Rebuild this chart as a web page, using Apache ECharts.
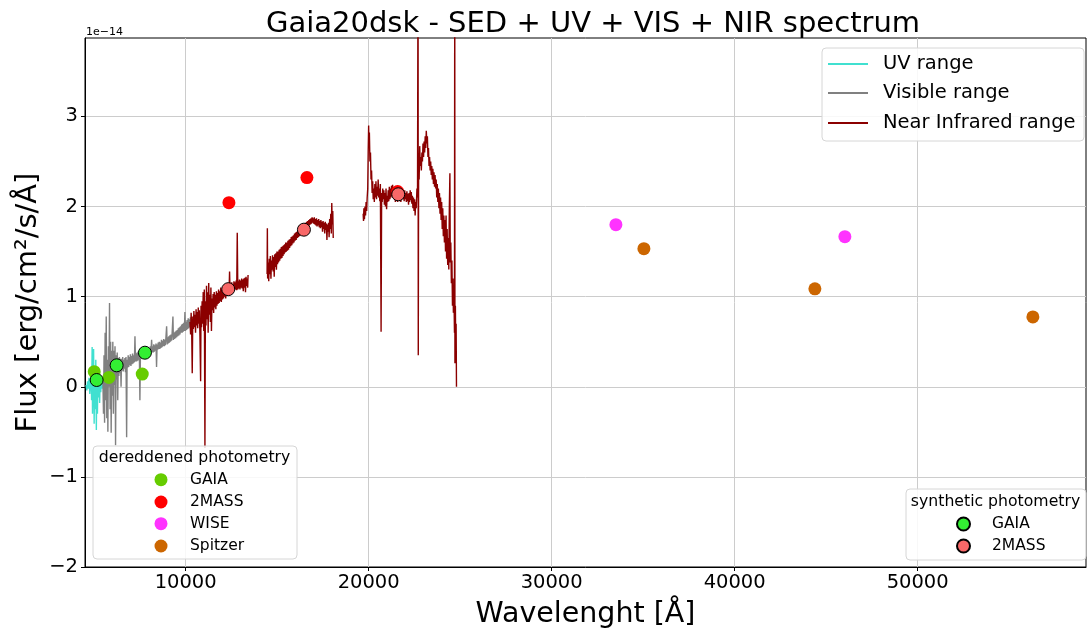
<!DOCTYPE html>
<html>
<head>
<meta charset="utf-8">
<script src="https://cdn.jsdelivr.net/npm/echarts@6/dist/echarts.min.js"></script>
<style>html,body{margin:0;padding:0;background:#fff}#c{width:1087px;height:635px}</style>
</head>
<body>
<div id="c"></div>
<script>
const TITLE = 'Gaia20dsk - SED + UV + VIS + NIR spectrum';
const X_TICKS = [10000, 20000, 30000, 40000, 50000];
const Y_TICKS = [-2, -1, 0, 1, 2, 3];

const UV = [[4560,0.02],[4600,-0.04],[4640,0.06],[4680,-0.02],[4720,0.1],[4760,-0.08],[4800,0.05],[4830,0.18],[4860,-0.15],[4890,0.44],[4910,-0.3],[4940,0.1],[4970,0.42],[5000,-0.41],[5030,0.2],[5060,-0.25],[5090,0.3],[5120,-0.48],[5150,0.15],[5180,-0.3],[5210,0.22],[5240,-0.12],[5270,0.12],[5300,-0.18],[5330,0.1],[5360,-0.06],[5400,0.08],[5440,-0.02],[5480,0.05]];

const VIS = [[5480,0.05],[5510,-0.3],[5540,0.35],[5570,-0.4],[5600,0.6],[5630,-0.15],[5660,0.78],[5690,-0.35],[5720,0.3],[5750,-0.5],[5780,0.45],[5810,0.0],[5840,0.93],[5870,-0.25],[5900,0.5],[5930,-0.51],[5960,0.4],[5990,-0.1],[6020,0.5],[6050,-0.3],[6080,0.4],[6110,0.02],[6140,0.45],[6170,-0.65],[6200,0.35],[6230,0.08],[6260,0.38],[6290,-0.15],
[6320,0.32],[6350,0.12],[6380,0.33],[6410,0.15],[6440,0.31],[6470,0.0],[6500,0.31],[6530,0.18],[6560,0.33],[6590,0.17],[6620,0.3],[6650,0.2],[6680,0.32],[6710,0.16],[6740,0.33],[6775,-0.56],[6800,0.3],[6830,0.21],[6860,0.35],[6890,0.22],[6920,0.33],[6950,0.24],[6980,0.36],
[7010,0.23],[7040,0.34],[7070,0.25],[7100,0.37],[7130,0.26],[7160,0.35],[7200,0.27],[7230,0.56],[7260,0.28],[7290,0.37],[7320,0.28],[7350,0.38],[7380,0.29],[7410,0.39],[7440,0.3],[7470,0.38],[7500,-0.15],[7530,0.37],[7560,0.31],[7590,0.4],[7620,0.31],[7650,0.41],[7680,0.32],[7710,0.42],[7740,0.33],[7770,0.41],[7800,0.34],[7830,0.43],[7860,0.34],[7890,0.42],[7920,0.35],[7950,0.44],[7980,0.36],
[8010,0.43],[8040,0.36],[8070,0.45],[8100,0.37],[8140,0.52],[8170,0.38],[8200,0.45],[8230,0.38],[8260,0.47],[8290,0.39],[8320,0.46],[8350,0.4],[8380,0.48],[8410,0.22],[8440,0.47],[8470,0.41],[8500,0.49],[8530,0.42],[8560,0.5],[8590,0.42],[8620,0.49],[8650,0.43],[8680,0.52],[8710,0.44],[8740,0.51],[8770,0.45],[8800,0.53],[8830,0.45],[8860,0.52],[8890,0.46],[8920,0.54],[8960,0.67],[8990,0.47],[9020,0.55],[9050,0.48],[9080,0.56],[9110,0.49],[9140,0.57],[9170,0.5],[9200,0.58],[9230,0.51],[9260,0.59],[9305,0.78],[9330,0.52],[9360,0.6],[9390,0.53],[9420,0.61],[9450,0.54],[9480,0.62],[9510,0.55],[9540,0.63],[9570,0.56],[9600,0.65],[9630,0.57],[9660,0.66],[9690,0.58],[9720,0.67],[9750,0.6],[9780,0.69],[9810,0.6],[9840,0.7],[9870,0.61],[9900,0.71],[9930,0.62],[9960,0.83],[9990,0.62],[10020,0.72],[10050,0.63],[10080,0.74],[10110,0.64],[10140,0.76],[10170,0.65],[10200,0.75],[10230,0.66],[10260,0.77],[10290,0.67],[10320,0.74]];

const NIR1 = [[10240,0.72],[10270,0.58],[10300,0.82],[10330,0.62],[10360,0.15],[10390,0.78],[10420,0.64],[10450,0.84],[10480,0.66],[10510,0.8],[10540,0.6],[10570,0.86],[10600,0.68],[10630,0.83],[10660,0.65],[10690,0.88],[10720,0.7],[10750,0.85],[10780,0.58],[10818,0.06],[10840,0.9],[10870,0.66],[10900,0.95],[10930,0.7],[10960,1.05],[10990,0.62],[11020,1.08],[11054,-0.68],[11080,0.95],[11110,0.68],[11140,1.12],[11170,0.75],[11200,1.05],[11230,0.6],[11260,1.15],[11290,0.8],[11320,1.02],[11350,0.72],[11380,1.1],[11410,0.62],[11440,0.98],[11470,0.85],[11500,1.03],[11530,0.82],[11560,1.05],[11590,0.88],[11620,1.02],[11650,0.86],[11680,1.06],[11710,0.9],[11740,1.04],[11770,0.92],[11800,1.08],[11830,0.93],[11860,1.06],[11890,0.95],[11920,1.1],[11950,0.94],[11980,1.08],[12010,0.97],[12040,1.11],[12070,0.98],[12100,1.1],[12130,1.0],[12160,1.13],[12190,0.98],[12220,1.12],[12250,1.01],[12280,1.14],[12310,1.02],[12340,1.12],[12370,1.03],[12400,1.28],[12430,1.02],[12460,1.15],[12490,1.04],[12520,1.16],[12550,1.05],[12580,1.14],[12610,1.06],[12640,1.17],[12670,1.07],[12700,1.16],[12730,1.08],[12760,1.18],[12790,1.07],[12820,1.71],[12850,1.08],[12880,1.17],[12910,1.09],[12940,1.19],[12970,1.08],[13000,1.18],[13030,1.1],[13060,1.2],[13090,1.09],[13120,1.19],[13150,1.06],[13180,1.2],[13210,1.1],[13240,1.21],[13270,1.05],[13300,1.22],[13330,1.12],[13360,1.2],[13390,1.1],[13410,1.24]];

const NIR2 = [[14450,1.25],[14465,1.76],[14480,1.2],[14510,1.38],[14540,1.17],[14570,1.42],[14600,1.25],[14630,1.45],[14660,1.2],[14690,1.4],[14720,1.3],[14750,1.46],[14780,1.28],[14810,1.44],[14840,1.22],[14870,1.47],[14900,1.33],[14930,1.48],[14960,1.3],[14990,1.5],[15020,1.36],[15050,1.5],[15080,1.38],[15110,1.52],[15140,1.4],[15170,1.53],[15200,1.42],[15230,1.55],[15260,1.43],[15290,1.56],[15320,1.45],[15350,1.57],[15380,1.47],[15410,1.58],[15440,1.49],[15470,1.6],[15500,1.5],[15530,1.6],[15560,1.51],[15590,1.62],[15620,1.52],[15650,1.63],[15680,1.54],[15710,1.64],[15740,1.56],[15770,1.66],[15800,1.57],[15830,1.67],[15860,1.59],[15890,1.68],[15920,1.6],[15950,1.7],[15980,1.62],[16010,1.71],[16040,1.63],[16070,1.72],[16100,1.65],[16130,1.73],[16160,1.66],[16190,1.75],[16220,1.67],[16250,1.76],[16280,1.68],[16310,1.77],[16340,1.7],[16370,1.78],[16400,1.71],[16430,1.79],[16460,1.72],[16490,1.8],[16520,1.73],[16550,1.82],[16580,1.75],[16610,1.83],[16640,1.77],[16670,1.84],[16700,1.78],[16730,1.85],[16760,1.79],[16790,1.86],[16820,1.8],[16850,1.87],[16880,1.81],[16910,1.88],[16940,1.82],[16970,1.87],[17000,1.81],[17030,1.88],[17060,1.8],[17090,1.86],[17120,1.79],[17150,1.87],[17180,1.78],[17210,1.85],[17240,1.79],[17270,1.86],[17300,1.77],[17330,1.84],[17360,1.76],[17390,1.85],[17420,1.77],[17450,1.83],[17480,1.72],[17510,1.84],[17540,1.75],[17570,1.82],[17600,1.7],[17630,1.83],[17660,1.74],[17690,1.81],[17720,1.63],[17750,1.8],[17780,1.72],[17810,1.82],[17840,1.66],[17870,1.86],[17900,1.75],[17930,1.92],[17960,1.7],[17985,2.04],[18010,1.8],[18040,1.95],[18065,1.65]];

const NIR3 = [[19700,1.92],[19720,1.84],[19740,1.98],[19770,1.86],[19800,2.0],[19830,1.9],[19860,2.05],[19890,1.95],[19920,2.1],[19950,2.2],[19975,2.6],[20000,2.9],[20015,2.7],[20040,2.82],[20070,2.5],[20100,2.6],[20130,2.3],[20160,2.4],[20190,2.15],[20220,2.28],[20250,2.08],[20280,2.2],[20310,2.05],[20340,2.25],[20370,2.1],[20400,2.28],[20430,2.08],[20460,2.22],[20490,2.12],[20520,2.3],[20550,2.1],[20580,2.2],[20610,2.06],[20640,2.25],[20680,0.61],[20710,2.15],[20740,2.05],[20770,2.2],[20800,2.08],[20830,2.18],[20860,2.02],[20890,2.15],[20920,2.0],[20950,2.2],[20980,1.97],[21010,2.12],[21040,2.05],[21070,2.18],[21100,2.06],[21130,2.22],[21160,2.08],[21190,2.2],[21220,2.1],[21250,2.23],[21280,2.12],[21310,2.24],[21340,2.1],[21370,2.2],[21400,2.08],[21430,2.18],[21460,2.05],[21490,2.2],[21520,2.1],[21550,2.18],[21580,2.05],[21610,2.15],[21640,2.08],[21670,2.18],[21700,2.06],[21730,2.17],[21760,2.05],[21790,2.15],[21820,2.1],[21850,2.2],[21880,2.08],[21910,2.16],[21940,2.06],[21970,2.18],[22000,2.08],[22030,2.15],[22060,2.05],[22090,2.17],[22120,2.06],[22150,2.14],[22180,2.02],[22210,2.15],[22240,2.05],[22270,2.18],[22300,2.07],[22330,2.16],[22360,2.03],[22390,2.12],[22420,1.98],[22450,2.1],[22480,1.95],[22510,2.08],[22540,1.9],[22570,2.05],[22600,1.98],[22640,2.2],[22670,2.1],[22700,5.0],[22712,0.35],[22730,2.4],[22760,2.3],[22790,2.67],[22820,2.45],[22850,2.55],[22880,2.4],[22910,2.6],[22940,2.5],[22970,2.7],[23000,2.55],[23030,2.72],[23060,2.6],[23090,2.78],[23120,2.65],[23150,2.84],[23180,2.7],[23210,2.78],[23240,2.55],[23270,2.65],[23300,2.45],[23330,2.55],[23360,2.4],[23390,2.5],[23420,2.35],[23450,2.45],[23480,2.3],[23510,2.42],[23540,2.25],[23570,2.38],[23600,2.22],[23630,2.35],[23660,2.2],[23690,2.3],[23720,2.1],[23750,2.25],[23780,2.05],[23810,2.2],[23840,1.98],[23870,2.15],[23900,1.92],[23930,2.1],[23960,1.85],[23990,2.05],[24020,1.75],[24050,1.98],[24080,1.67],[24110,1.9],[24140,1.6],[24170,1.85],[24200,1.5],[24230,1.9],[24260,1.42],[24290,1.75],[24320,1.35],[24350,1.65],[24380,1.3],[24410,2.0],[24440,2.37],[24460,1.38],[24490,1.6],[24520,1.15],[24550,1.4],[24580,0.9],[24610,1.2],[24630,0.82],[24660,1.05],[24690,0.6],[24705,5.0],[24715,0.26],[24740,0.9],[24760,0.4],[24780,0.7],[24800,0.0]];

const GAIA_DERED = [[5005,0.167],[5808,0.104],[7628,0.141]];
const TWOMASS_DERED = [[12365,2.043],[16627,2.321],[21583,2.166]];
const WISE_DERED = [[33511,1.799],[46023,1.665]];
const SPITZER_DERED = [[35041,1.532],[44385,1.087],[56297,0.775]];
const GAIA_SYN = [[5136,0.075],[6229,0.238],[7775,0.378]];
const TWOMASS_SYN = [[12327,1.083],[16463,1.743],[21616,2.136]];

const F = 'DejaVu Sans';
const C_UV = '#40e0d0', C_VIS = '#808080', C_NIR = '#8b0000';

function lineSeries(name, data, color) {
  return {type:'line', name:name, data:data, color:color, showSymbol:false, symbol:'none',
    lineStyle:{width:1.4, color:color}, z:2, silent:true};
}
function scatterSeries(name, data, color, edge, z) {
  return {type:'scatter', name:name, data:data, color:color, symbolSize:13,
    itemStyle:{color:color, borderColor: edge ? '#000' : color, borderWidth: edge ? 1 : 0, opacity:1}, z:z};
}
function lineLegend(name, top) {
  return {data:[name], orient:'vertical', left:828, top:top, padding:0, itemWidth:40, itemHeight:2, icon:'rect',
    textStyle:{fontSize:19.5, lineHeight:22, fontFamily:F, color:'#000', padding:[0,0,0,10]}, z:110, selectedMode:false};
}
function dotLegend(name, left, top, textPad) {
  return {data:[name], orient:'vertical', left:left, top:top, padding:0, itemWidth:13, itemHeight:13, icon:'circle',
    formatter: n => n.split(' ')[0],
    textStyle:{fontSize:15.5, lineHeight:18, fontFamily:F, color:'#000', padding:[0,0,0,textPad]}, z:110, selectedMode:false};
}
function box(x, y, w, h) {
  return {type:'rect', z:100, shape:{x:x, y:y, width:w, height:h, r:4},
    style:{fill:'rgba(255,255,255,0.85)', stroke:'#d6d6d6', lineWidth:1}};
}
function label(text, x, y, size, align) {
  return {type:'text', z:110, x:x, y:y,
    style:{text:text, fontSize:size, fontFamily:F, fill:'#000', align:align, textAlign:align, verticalAlign:'middle', textVerticalAlign:'middle'}};
}
const minus = v => (v < 0 ? '\u2212' + Math.abs(v) : String(v));

const chart = echarts.init(document.getElementById('c'), null, {renderer:'canvas'});
chart.setOption({
  animation:false,
  backgroundColor:'#fff',
  title:{text:TITLE, left:588, top:5, textAlign:'center',
    textStyle:{fontFamily:F, fontSize:29, fontWeight:'normal', color:'#000'}},
  grid:{left:85, right:1, top:38, bottom:68, show:true, borderColor:'#000', borderWidth:1},
  xAxis:{type:'value', min:4500, max:59200,
    name:'Wavelenght [Å]', nameLocation:'middle', nameGap:33,
    nameTextStyle:{fontFamily:F, fontSize:28.5, color:'#000'},
    axisLine:{show:true, onZero:false, lineStyle:{color:'#000'}},
    axisTick:{show:true, customValues:X_TICKS, length:4, lineStyle:{color:'#000'}},
    axisLabel:{customValues:X_TICKS, fontFamily:F, fontSize:19.5, color:'#000', margin:6, formatter: v => String(v)},
    splitLine:{show:true, lineStyle:{color:'#cccccc', width:1}}},
  yAxis:{type:'value', min:-2, max:3.87,
    name:'Flux [erg/cm²/s/Å]', nameLocation:'middle', nameGap:42, nameMoveOverlap:false,
    nameTextStyle:{fontFamily:F, fontSize:29, color:'#000'},
    axisLine:{show:true, onZero:false, lineStyle:{color:'#000'}},
    axisTick:{show:true, customValues:Y_TICKS, length:4, lineStyle:{color:'#000'}},
    axisLabel:{customValues:Y_TICKS, fontFamily:F, fontSize:19.5, color:'#000', margin:7, formatter:minus},
    splitLine:{show:true, lineStyle:{color:'#cccccc', width:1}}},
  legend:[
    lineLegend('UV range', 53),
    lineLegend('Visible range', 82),
    lineLegend('Near Infrared range', 112),
    dotLegend('GAIA dereddened', 154.5, 470.7, 17.5),
    dotLegend('2MASS dereddened', 154.5, 493, 17.5),
    dotLegend('WISE dereddened', 154.5, 514.7, 17.5),
    dotLegend('Spitzer dereddened', 154.5, 537, 17.5),
    dotLegend('GAIA synthetic', 956, 515, 17),
    dotLegend('2MASS synthetic', 956, 537, 17)
  ],
  graphic:[
    box(822, 48, 262, 93),
    box(93, 446, 204, 113),
    box(906, 489, 180, 71),
    label('dereddened photometry', 194.5, 458, 15.7, 'center'),
    label('synthetic photometry', 995.5, 502, 15.7, 'center'),
    label('1e\u221214', 86, 32, 11, 'left')
  ],
  series:[
    lineSeries('UV range', UV, C_UV),
    lineSeries('Visible range', VIS, C_VIS),
    lineSeries('Near Infrared range', NIR1, C_NIR),
    lineSeries('Near Infrared range', NIR2, C_NIR),
    lineSeries('Near Infrared range', NIR3, C_NIR),
    scatterSeries('GAIA dereddened', GAIA_DERED, '#66cc00', false, 3),
    scatterSeries('2MASS dereddened', TWOMASS_DERED, '#ff0000', false, 3),
    scatterSeries('WISE dereddened', WISE_DERED, '#ff33ff', false, 3),
    scatterSeries('Spitzer dereddened', SPITZER_DERED, '#cc6600', false, 3),
    scatterSeries('GAIA synthetic', GAIA_SYN, '#33ee33', true, 4),
    scatterSeries('2MASS synthetic', TWOMASS_SYN, '#f86868', true, 4)
  ]
});
</script>
</body>
</html>
